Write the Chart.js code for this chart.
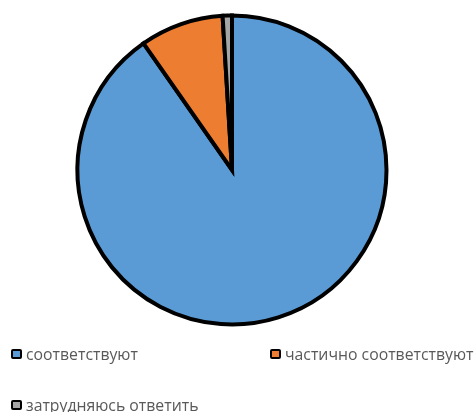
<!DOCTYPE html>
<html>
<head>
<meta charset="utf-8">
<script src="https://cdn.jsdelivr.net/npm/chart.js@4"></script>
<style>
html,body{margin:0;padding:0;background:#fff;width:475px;height:412px;overflow:hidden;}
#wrap{position:relative;width:475px;height:412px;}
canvas{position:absolute;left:0;top:0;}
.lg{position:absolute;font-family:"Open Sans",sans-serif;font-size:15.8px;color:#595959;line-height:18px;white-space:nowrap;display:flex;align-items:center;}
.lg .bx{width:7px;height:6px;border:2px solid #000;border-radius:2px;margin-right:4px;box-sizing:content-box;}
</style>
</head>
<body>
<div id="wrap"><canvas id="c" width="475" height="412"></canvas></div>
<script>
const categories = ["соответствуют", "частично соответствуют", "затрудняюсь ответить"];
const values = [93, 9, 1];
const colors = ["#5B9BD5", "#ED7D31", "#A5A5A5"];
const legendPos = [[11, 345], [270, 345], [11, 396]];

new Chart(document.getElementById('c'), {
  type: 'pie',
  data: {
    labels: categories,
    datasets: [{
      data: values,
      backgroundColor: colors,
      borderColor: '#000',
      borderWidth: 4,
      borderJoinStyle: 'miter'
    }]
  },
  options: {
    responsive: false,
    animation: false,
    radius: 154.5,
    layout: { padding: { left: 0, right: 11, top: 0, bottom: 72 } },
    plugins: { legend: { display: false }, tooltip: { enabled: false } }
  }
});

const wrap = document.getElementById('wrap');
categories.forEach((name, i) => {
  const d = document.createElement('div');
  d.className = 'lg';
  d.style.left = legendPos[i][0] + 'px';
  d.style.top = legendPos[i][1] + 'px';
  const b = document.createElement('span');
  b.className = 'bx';
  b.style.background = colors[i];
  d.appendChild(b);
  d.appendChild(document.createTextNode(name));
  wrap.appendChild(d);
});
</script>
</body>
</html>
